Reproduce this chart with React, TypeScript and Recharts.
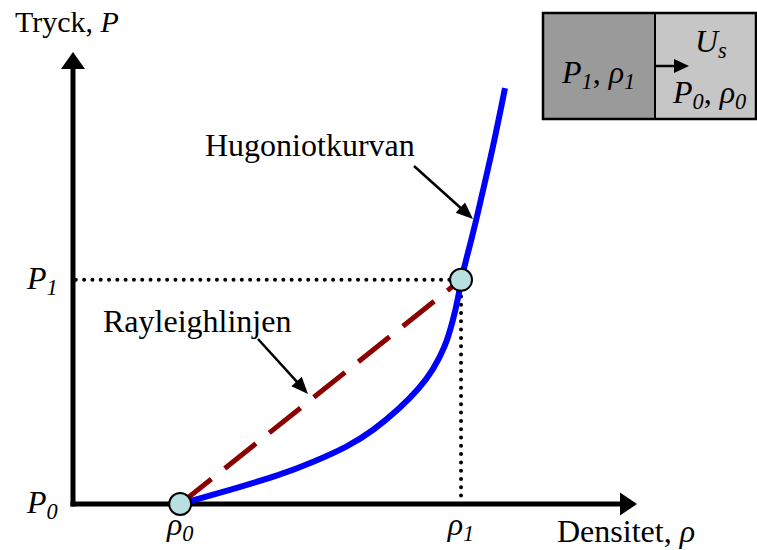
import { LineChart, Line, XAxis, YAxis, ReferenceLine, ReferenceDot } from 'recharts';

// Hugoniot curve (density, pressure in arbitrary units 0..10)
const hugRho = [1.9, 2.78, 3.67, 4.26, 4.86, 5.32, 5.8, 6.15, 6.38, 6.6, 6.74, 6.83, 6.88, 6.97, 7.15, 7.23, 7.45, 7.66];
const hugP = [0, 0.31, 0.64, 0.93, 1.26, 1.62, 2.12, 2.57, 2.96, 3.47, 4.07, 4.56, 4.96, 5.4, 6.28, 6.73, 7.9, 9.2];

const RHO0 = 1.9;
const RHO1 = 6.88;
const P0 = 0;
const P1 = 4.96;

const rhoTicks = [RHO0, RHO1];
const rhoTickSubs = ['0', '1'];
const pTicks = [P0, P1];
const pTickSubs = ['0', '1'];

const hugoniot = hugRho.map((rho, i) => ({ rho, p: hugP[i] }));
const rayleigh = [
  { rho: RHO0, p: P0 },
  { rho: RHO1, p: P1 },
];

const FONT = "'Liberation Serif', 'Times New Roman', serif";
const SIZE = 32;
const SUB_SHIFT = 6;

type Part = { t: string; italic?: boolean; sub?: boolean };

function Rich({ x, y, parts, size = SIZE, anchor = 'start' }: { x: number; y: number; parts: Part[]; size?: number; anchor?: string }) {
  let shifted = false;
  return (
    <text x={x} y={y} fontSize={size} fontFamily={FONT} textAnchor={anchor} fill="#000">
      {parts.map((p, i) => {
        let dy: number | undefined;
        if (p.sub && !shifted) {
          dy = SUB_SHIFT;
          shifted = true;
        } else if (!p.sub && shifted) {
          dy = -SUB_SHIFT;
          shifted = false;
        }
        return (
          <tspan key={i} dy={dy} fontStyle={p.italic ? 'italic' : undefined} fontSize={p.sub ? size * 0.7 : undefined}>
            {p.t}
          </tspan>
        );
      })}
    </text>
  );
}

function Arrow({ x1, y1, x2, y2, len = 17, half = 7, width = 2.5 }: any) {
  const L = Math.hypot(x2 - x1, y2 - y1);
  const ux = (x2 - x1) / L;
  const uy = (y2 - y1) / L;
  const bx = x2 - ux * len;
  const by = y2 - uy * len;
  const pts = `${x2},${y2} ${bx - uy * half},${by + ux * half} ${bx + uy * half},${by - ux * half}`;
  return (
    <g>
      <line x1={x1} y1={y1} x2={bx + ux * 2} y2={by + uy * 2} stroke="#000" strokeWidth={width} />
      <polygon points={pts} fill="#000" />
    </g>
  );
}

function RhoTick(props: any) {
  const { x, y, payload, index } = props;
  return <Rich x={x} y={y + 23} anchor="middle" parts={[{ t: 'ρ', italic: true }, { t: rhoTickSubs[index] ?? String(payload.value), italic: true, sub: true }]} />;
}

function PTick(props: any) {
  const { x, y, index } = props;
  return <Rich x={x - 38} y={y + 9} parts={[{ t: 'P', italic: true }, { t: pTickSubs[index], italic: true, sub: true }]} />;
}

export default function App() {
  return (
    <div style={{ position: 'absolute', left: 0, top: 0, width: 757, height: 550, background: '#fff' }}>
      <svg width={757} height={550} style={{ position: 'absolute', left: 0, top: 0 }}>
        {/* axes with arrow heads */}
        <line x1={73} y1={506.5} x2={73} y2={66} stroke="#000" strokeWidth={5} />
        <polygon points="73,52 61,69 85,69" fill="#000" />
        <line x1={70.5} y1={504} x2={624} y2={504} stroke="#000" strokeWidth={5} />
        <polygon points="637,504 620,492.5 620,515.5" fill="#000" />

        <Rich x={15} y={32} size={30} parts={[{ t: 'Tryck, ' }, { t: 'P', italic: true }]} />
        <Rich x={557} y={542} parts={[{ t: 'Densitet, ' }, { t: 'ρ', italic: true }]} />
        <Rich x={205} y={156} parts={[{ t: 'Hugoniotkurvan' }]} />
        <Rich x={103} y={332} parts={[{ t: 'Rayleighlinjen' }]} />
        <Arrow x1={414} y1={166} x2={473} y2={219} />
        <Arrow x1={258} y1={339} x2={308} y2={394} />

        {/* inset: shock front */}
        <rect x={543} y={13} width={112} height={106} fill="#9a9a9a" />
        <rect x={655} y={13} width={101} height={106} fill="#c6c6c6" />
        <rect x={543} y={13} width={213} height={106} fill="none" stroke="#000" strokeWidth={2.5} />
        <line x1={655} y1={13} x2={655} y2={119} stroke="#000" strokeWidth={2} />
        <Arrow x1={655} y1={66} x2={689} y2={66} len={15} half={7} />
        <Rich x={562} y={83} parts={[{ t: 'P', italic: true }, { t: '1', italic: true, sub: true }, { t: ', ' }, { t: 'ρ', italic: true }, { t: '1', italic: true, sub: true }]} />
        <Rich x={695} y={52} parts={[{ t: 'U', italic: true }, { t: 's', italic: true, sub: true }]} />
        <Rich x={673} y={103} parts={[{ t: 'P', italic: true }, { t: '0', italic: true, sub: true }, { t: ', ' }, { t: 'ρ', italic: true }, { t: '0', italic: true, sub: true }]} />
      </svg>

      <div style={{ position: 'absolute', left: 0, top: 0 }}>
        <LineChart width={757} height={550} margin={{ top: 52, right: 120, bottom: 16, left: 0 }}>
          <XAxis
            dataKey="rho"
            type="number"
            domain={[0, 10]}
            ticks={rhoTicks}
            tick={(p: any) => <RhoTick {...p} />}
            axisLine={false}
            tickLine={false}
            height={30}
            allowDataOverflow
          />
          <YAxis
            type="number"
            domain={[0, 10]}
            ticks={pTicks}
            tick={(p: any) => <PTick {...p} />}
            axisLine={false}
            tickLine={false}
            width={73}
            allowDataOverflow
          />
          <ReferenceLine
            segment={[{ x: 0.05, y: P1 }, { x: RHO1, y: P1 }]}
            stroke="#000"
            strokeWidth={4}
            strokeDasharray="0 8.3"
            strokeLinecap="round"
          />
          <ReferenceLine
            segment={[{ x: RHO1, y: P1 }, { x: RHO1, y: 0.05 }]}
            stroke="#000"
            strokeWidth={4}
            strokeDasharray="0 8.3"
            strokeLinecap="round"
          />
          <Line data={rayleigh} dataKey="p" type="linear" stroke="#8b0000" strokeWidth={5} strokeDasharray="40 17" dot={false} isAnimationActive={false} />
          <Line data={hugoniot} dataKey="p" type="basis" stroke="#0000ff" strokeWidth={6} dot={false} isAnimationActive={false} />
          <ReferenceDot x={RHO0} y={P0} r={11} fill="#b9e0e1" stroke="#000" strokeWidth={2} />
          <ReferenceDot x={RHO1} y={P1} r={11} fill="#b9e0e1" stroke="#000" strokeWidth={2} />
        </LineChart>
      </div>
    </div>
  );
}
